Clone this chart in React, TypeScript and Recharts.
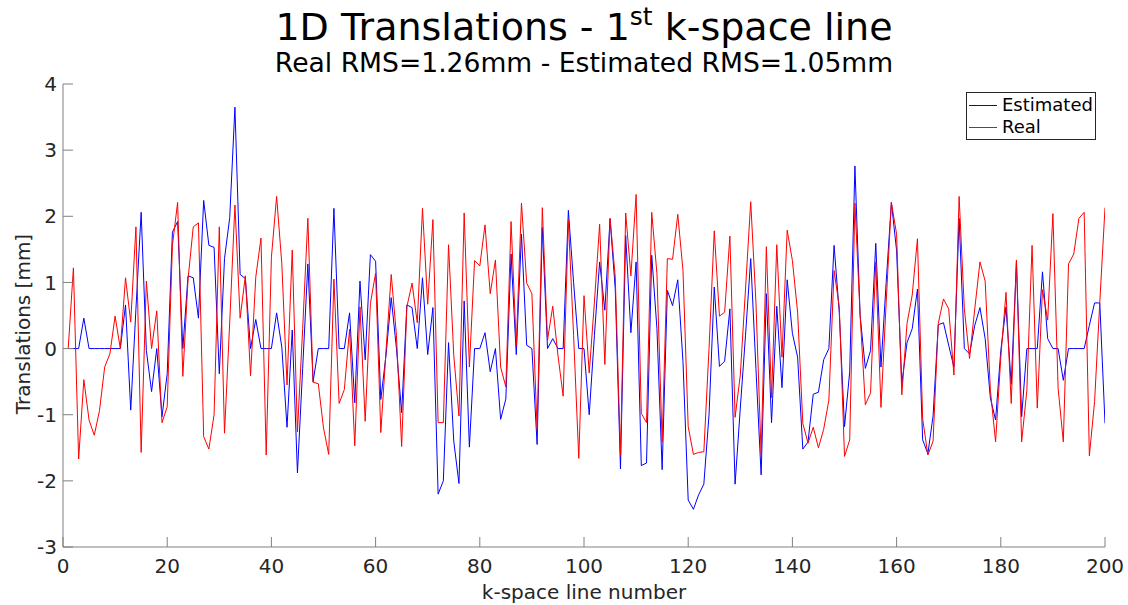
import { LineChart, Line, XAxis, YAxis, Legend } from "recharts";

// per-line displacement in mm, k-space lines 1..200
const estimated = [
  0, 0, 0, 0.46, 0, 0, 0, 0, 0, 0,
  0, 0.66, -0.93, 0.6, 2.06, -0.03, -0.65, 0, -1.03, -0.38,
  1.76, 1.92, 0, 1.1, 1.07, 0.46, 2.24, 1.56, 1.53, -0.38,
  1.36, 1.98, 3.65, 1.12, 1.06, 0, 0.44, 0, 0, 0,
  0.54, 0.02, -1.19, 0.28, -1.88, -0.3, 1.28, -0.5, 0, 0,
  0, 2.12, 0, 0, 0.54, -0.82, 1.02, -0.17, 1.42, 1.32,
  -0.77, -0.1, 0.77, 0, -0.97, 0.66, 0.62, 0, 1.07, -0.09,
  0.62, -2.2, -2.0, 0.09, -1.4, -2.04, 0.72, -1.49, 0, 0,
  0.24, -0.35, 0, -1.07, -0.76, 1.43, -0.09, 1.73, 0.05, 0,
  -1.45, 1.83, 0, 0.15, 0, 0, 2.09, 1.0, 0, 0,
  -1.0, 0.2, 1.31, 0.58, 1.96, 0.9, -1.82, 1.71, 0.24, 1.31,
  -1.77, -1.73, 1.41, 0.3, -1.83, 0.88, 0.65, 1.04, -0.2, -2.29,
  -2.43, -2.21, -2.05, -1.0, 0.93, -0.27, -0.19, 0.6, -2.05, -0.9,
  0.2, 1.36, -0.3, -1.91, 0.83, -1.12, 0.64, -0.59, 1.04, 0.23,
  -0.13, -1.52, -1.41, -0.69, -0.66, -0.17, 0, 1.56, 0.54, -1.18,
  -0.35, 2.76, 0.5, -0.3, -0.03, 1.59, -0.28, 1.0, 2.21, 1.48,
  -0.53, 0.09, 0.3, 0.9, -1.38, -1.59, -1.02, 0.36, 0.39, 0.05,
  -0.28, 1.97, 0, -0.08, 0.35, 0.62, 0.15, -0.75, -1.08, -0.03,
  0.63, -0.54, 1.31, -1.03, 0, 0, 0, 1.16, 0.15, 0,
  0, -0.48, 0, 0, 0, 0, 0.35, 0.69, 0.69, -1.13,
];

const real = [
  0, 1.22, -1.67, -0.47, -1.08, -1.31, -0.94, -0.28, -0.08, 0.49,
  0, 1.07, 0.4, 1.84, -1.57, 1.02, 0, 0.57, -1.12, -0.88,
  1.56, 2.21, -0.42, 1.05, 1.84, 1.9, -1.33, -1.52, -1.0, 1.84,
  -1.28, 0.4, 2.17, 0.46, 1.1, -0.41, 1.08, 1.67, -1.61, 1.38,
  2.3, 1.28, -0.55, 1.49, -1.26, 0.3, 1.97, -0.51, -0.53, -1.2,
  -1.6, 1.05, -0.83, -0.62, 0.29, -1.47, 0.63, -1.1, 0.68, 1.14,
  -1.27, -0.03, 1.12, 0.2, -1.48, 0.63, 0.99, 0.39, 2.12, 0.67,
  1.95, -1.12, -1.12, 1.57, -0.1, -1.02, 2.05, -0.28, 1.33, 1.25,
  1.87, 0.83, 1.34, -0.28, -0.58, 1.92, 0.05, 2.2, 0.99, 0.83,
  -1.22, 2.13, 0.13, 0.64, -0.1, -0.72, 1.94, 0.2, -1.66, 0.8,
  -0.37, 0.7, 1.88, -0.24, 1.97, 1.08, -1.61, 2.05, 1.1, 2.33,
  -0.98, -1.12, 2.06, 1.13, -1.41, 1.36, 1.35, 2.03, 1.18, -1.18,
  -1.6, -1.57, -1.56, 0.0, 1.78, 0.49, 0.55, 1.7, -1.04, -0.4,
  0.9, 2.22, 0.7, -1.6, 1.54, -0.74, 1.57, -0.13, 1.79, 1.33,
  0.55, -1.13, -1.43, -1.19, -1.5, -1.22, -0.78, 1.18, 0.63, -1.63,
  -1.38, 2.2, 0.5, -0.85, -0.67, 1.31, -0.89, 0.7, 2.21, 1.73,
  -0.7, 0.38, 0.81, 1.66, -1.06, -1.61, -1.4, 0.38, 0.75, 0.6,
  -0.4, 2.3, 0.6, -0.15, 0.6, 1.31, 1.02, -0.63, -1.41, -0.13,
  0.85, -0.83, 1.34, -1.41, -0.63, 1.56, -0.9, 0.89, 0.43, 2.04,
  -0.6, -1.41, 1.28, 1.43, 1.97, 2.06, -1.62, -0.8, 0.7, 2.13,
];

const xTicks = [0, 20, 40, 60, 80, 100, 120, 140, 160, 180, 200];
const yTicks = [-3, -2, -1, 0, 1, 2, 3, 4];

const data = estimated.map((v, i) => ({ line: i + 1, estimated: v, real: real[i] }));

const FONT = "'DejaVu Sans', Verdana, sans-serif";
const AXIS_GREY = "#808080";
const tickStyle = { fill: "#262626", fontSize: 20, fontFamily: FONT };

function LegendBox({ payload }: any) {
  return (
    <div
      style={{
        boxSizing: "border-box",
        width: 130,
        height: 48,
        border: "1px solid #262626",
        background: "#fff",
        paddingTop: 1,
        fontFamily: FONT,
      }}
    >
      {(payload || []).map((entry: any) => (
        <div key={entry.value} style={{ display: "flex", alignItems: "center", height: 22 }}>
          <span style={{ display: "inline-block", width: 28, borderTop: `1px solid ${entry.color}`, marginLeft: 2, marginRight: 5 }} />
          <span style={{ fontSize: 18, color: "#000", lineHeight: "22px" }}>{entry.value}</span>
        </div>
      ))}
    </div>
  );
}

export default function App() {
  return (
    <div style={{ position: "absolute", left: 0, top: 0, width: 1128, height: 605, background: "#fff" }}>
      <LineChart width={1128} height={605} data={data} margin={{ top: 84, right: 23, bottom: 18, left: 13 }}>
        <XAxis
          xAxisId="bottom"
          type="number"
          dataKey="line"
          domain={[0, 200]}
          ticks={xTicks}
          allowDataOverflow
          height={40}
          tickSize={-10}
          tickMargin={22}
          axisLine={{ stroke: AXIS_GREY }}
          tickLine={{ stroke: AXIS_GREY }}
          tick={tickStyle}
        />
        <XAxis
          xAxisId="top"
          orientation="top"
          type="number"
          dataKey="line"
          domain={[0, 200]}
          ticks={xTicks}
          allowDataOverflow
          height={0}
          tickSize={-10}
          axisLine={{ stroke: AXIS_GREY }}
          tickLine={{ stroke: AXIS_GREY }}
          tickFormatter={() => ""}
        />
        <YAxis
          yAxisId="left"
          type="number"
          domain={[-3, 4]}
          ticks={yTicks}
          allowDataOverflow
          width={50}
          tickSize={-10}
          tickMargin={16}
          axisLine={{ stroke: AXIS_GREY }}
          tickLine={{ stroke: AXIS_GREY }}
          tick={tickStyle}
        />
        <YAxis
          yAxisId="right"
          orientation="right"
          type="number"
          domain={[-3, 4]}
          ticks={yTicks}
          allowDataOverflow
          width={0}
          tickSize={-10}
          axisLine={{ stroke: AXIS_GREY }}
          tickLine={{ stroke: AXIS_GREY }}
          tickFormatter={() => ""}
        />
        <Legend
          layout="horizontal"
          verticalAlign="middle"
          align="center"
          wrapperStyle={{ left: 966, top: 92, width: 130, height: 48 }}
          content={<LegendBox />}
        />
        <Line
          xAxisId="bottom"
          yAxisId="left"
          type="linear"
          dataKey="estimated"
          name="Estimated"
          stroke="#0000ff"
          strokeWidth={1}
          dot={false}
          isAnimationActive={false}
        />
        <Line
          xAxisId="top"
          yAxisId="right"
          type="linear"
          dataKey="real"
          name="Real"
          stroke="#ff0000"
          strokeWidth={1}
          dot={false}
          isAnimationActive={false}
        />
      </LineChart>
      <svg
        width={1128}
        height={605}
        style={{ position: "absolute", left: 0, top: 0, pointerEvents: "none" }}
        fontFamily={FONT}
      >
        <text x={584} y={40} textAnchor="middle" fontSize={38} fill="#000">
          1D Translations - 1
          <tspan fontSize={25} dy={-15}>st</tspan>
          <tspan dy={15}> k-space line</tspan>
        </text>
        <text x={584} y={72} textAnchor="middle" fontSize={26.6} fill="#000">
          Real RMS=1.26mm - Estimated RMS=1.05mm
        </text>
        <text x={584} y={599} textAnchor="middle" fontSize={20} fill="#262626">
          k-space line number
        </text>
        <text transform="translate(30,324) rotate(-90)" textAnchor="middle" fontSize={20} fill="#262626">
          Translations [mm]
        </text>
      </svg>
    </div>
  );
}
